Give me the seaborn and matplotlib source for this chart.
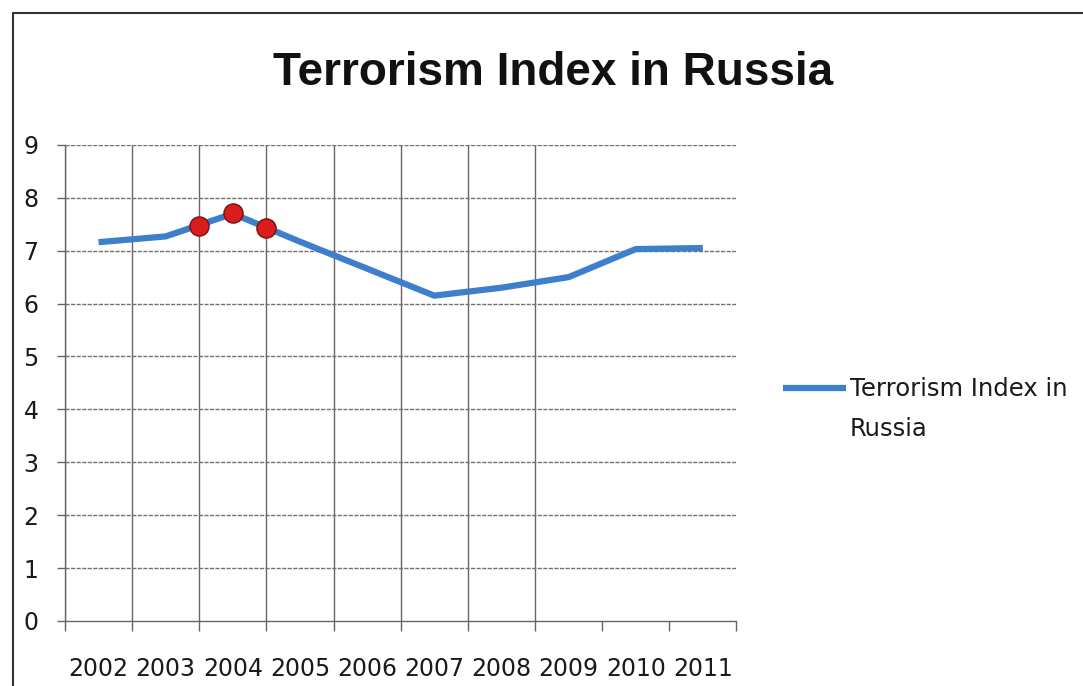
import numpy as np
import pandas as pd
import matplotlib
matplotlib.use("Agg")
import matplotlib.pyplot as plt
from matplotlib.lines import Line2D
from matplotlib.legend_handler import HandlerLine2D
import seaborn as sns

years = ["2002", "2003", "2004", "2005", "2006", "2007", "2008", "2009", "2010", "2011"]
index_values = [7.16, 7.27, 7.70, 7.17, 6.66, 6.15, 6.30, 6.50, 7.03, 7.05]
highlight_pos = [1.5, 2.0, 2.5]
highlight_values = [7.47, 7.71, 7.43]
y_ticks = [0, 1, 2, 3, 4, 5, 6, 7, 8, 9]
series_name = "Terrorism Index in\nRussia"
title = "Terrorism Index in Russia"

sns.set_theme(style="white")
plt.rcParams["font.family"] = ["DejaVu Sans"]

df = pd.DataFrame({"pos": np.arange(len(years)), "value": index_values})
hl = pd.DataFrame({"pos": highlight_pos, "value": highlight_values})

fig = plt.figure(figsize=(10.83, 6.86), dpi=100)
ax = fig.add_axes([0.060, 0.0948, 0.620, 0.694])

grid_c = "#6e6363"
n = len(years)
# vertical gridlines (visible only on left part in reference)
for b in np.arange(-0.5, n - 3.5 + 0.01, 1.0):
    ax.axvline(b, color=grid_c, lw=1.0, zorder=1)
for yv in y_ticks[1:]:
    ax.axhline(yv, color="#7a6e70", lw=1.0, ls=(0, (3, 1)), zorder=1)

sns.lineplot(data=df, x="pos", y="value", ax=ax, color="#3d7fcc", lw=4.5,
             label=series_name, zorder=3, solid_capstyle="butt")
sns.scatterplot(data=hl, x="pos", y="value", ax=ax, color="#d91c1c", s=190,
                edgecolor="#7a1010", linewidth=1.0, zorder=4, legend=False)

ax.set_xlim(-0.5, n - 0.5)
ax.set_ylim(0, 9)
ax.set_yticks(y_ticks)
ax.set_yticklabels([str(v) for v in y_ticks], fontsize=17)
ax.set_xticks(np.arange(-0.5, n, 1.0))
ax.set_xticklabels([])
ax.set_xticks(np.arange(n), minor=True)
ax.set_xticklabels(years, minor=True, fontsize=17)
ax.tick_params(axis="x", which="major", direction="out", length=7, width=1, color=grid_c, bottom=True)
ax.tick_params(axis="x", which="minor", length=0, pad=26, labelcolor="#1a1a1a")
ax.tick_params(axis="y", direction="out", length=6, width=1, color=grid_c, left=True, pad=13, labelcolor="#1a1a1a")
ax.set_xlabel("")
ax.set_ylabel("")
for s in ["top", "right"]:
    ax.spines[s].set_visible(False)
ax.spines["left"].set_color(grid_c)
ax.spines["bottom"].set_color(grid_c)
ax.spines["left"].set_linewidth(1.0)
ax.spines["bottom"].set_linewidth(1.0)


class TopAlignedHandler(HandlerLine2D):
    def create_artists(self, legend, orig_handle, xdescent, ydescent, width, height, fontsize, trans):
        return super().create_artists(legend, orig_handle, xdescent, ydescent - 1.82 * fontsize,
                                      width, height, fontsize, trans)


handles, labels = ax.get_legend_handles_labels()
leg = ax.legend(handles, labels, loc="center left", bbox_to_anchor=(0.703, 0.404),
                bbox_transform=fig.transFigure, frameon=False, fontsize=17.5,
                handlelength=2.6, handletextpad=0.15, labelspacing=0.2,
                handler_map={handles[0]: TopAlignedHandler()})
for t in leg.get_texts():
    t.set_color("#1a1a1a")
    t.set_linespacing(1.85)

fig.text(0.511, 0.893, title, ha="center", va="center", fontsize=33, fontweight="bold",
         family=["Liberation Sans", "DejaVu Sans"], color="#111111")

# outer chart frame
fig.add_artist(Line2D([13 / 1083, 13 / 1083], [0, 1 - 13 / 686], transform=fig.transFigure, color="#333333", lw=1.5))
fig.add_artist(Line2D([13 / 1083, 1], [1 - 13 / 686, 1 - 13 / 686], transform=fig.transFigure, color="#333333", lw=1.5))

fig.savefig("out.png", dpi=100)
